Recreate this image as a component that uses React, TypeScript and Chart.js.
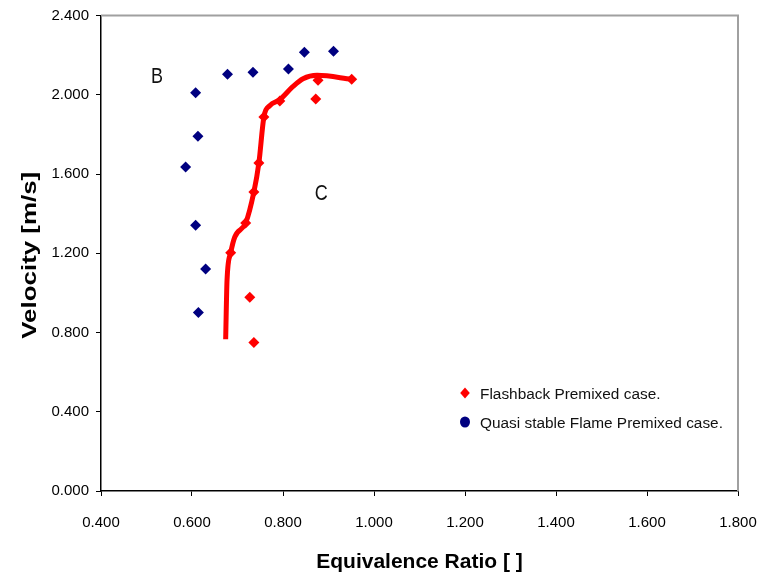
import React, { useEffect, useRef } from "react";
import { Chart, registerables } from "chart.js";

Chart.register(...registerables);

// ---- data ----
const flashbackX = [0.685, 0.718, 0.736, 0.747, 0.758, 0.793, 0.877, 0.872, 0.951, 0.727, 0.736];
const flashbackY = [1.202, 1.353, 1.509, 1.656, 1.888, 1.968, 2.073, 1.978, 2.078, 0.978, 0.75];

const quasiX = [0.608, 0.678, 0.734, 0.812, 0.847, 0.911, 0.613, 0.586, 0.608, 0.63, 0.614];
const quasiY = [2.01, 2.103, 2.113, 2.13, 2.214, 2.22, 1.79, 1.635, 1.341, 1.121, 0.901];

// hand-drawn trend curve through the flashback points
const trendX = [0.674, 0.677, 0.685, 0.694, 0.718, 0.736, 0.747, 0.758, 0.771, 0.793, 0.822, 0.844, 0.875, 0.951];
const trendY = [0.766, 1.064, 1.202, 1.282, 1.353, 1.509, 1.656, 1.888, 1.945, 1.975, 2.042, 2.081, 2.098, 2.078];

const annotationTexts = ["B", "C"];
const annotationX = [0.523, 0.884];
const annotationY = [2.09, 1.501];

const seriesLabels = ["Flashback Premixed case.", "Quasi stable Flame Premixed case."];
const xTitle = "Equivalence Ratio [ ]";
const yTitle = "Velocity [m/s]";

const FONT = '"Liberation Sans", Arial, sans-serif';
const RED = "#ff0000";
const NAVY = "#000080";

const zip = (xs: number[], ys: number[]) => xs.map((x, i) => ({ x, y: ys[i] }));

export default function App() {
  const ref = useRef<HTMLCanvasElement>(null);

  useEffect(() => {
    document.body.style.margin = "0";
    const canvas = ref.current;
    if (!canvas) return;

    const decor = {
      id: "decor",
      beforeDatasetsDraw(chart: any) {
        const { ctx, chartArea: a } = chart;
        ctx.save();
        ctx.strokeStyle = "#a0a0a0";
        ctx.lineWidth = 2;
        ctx.beginPath();
        ctx.moveTo(a.left, a.top);
        ctx.lineTo(a.right, a.top);
        ctx.lineTo(a.right, a.bottom);
        ctx.stroke();
        ctx.restore();
      },
      afterDraw(chart: any) {
        const { ctx, chartArea: a, scales } = chart;
        const xs = scales.x;
        const ys = scales.y;
        ctx.save();
        ctx.fillStyle = "#000";

        // x title
        ctx.font = `bold 21px ${FONT}`;
        ctx.textAlign = "center";
        ctx.textBaseline = "middle";
        ctx.fillText(xTitle, (a.left + a.right) / 2, 562);

        // y title (stretched along its length like the reference)
        ctx.save();
        ctx.translate(30, (a.top + a.bottom) / 2 + 2);
        ctx.rotate(-Math.PI / 2);
        const w = ctx.measureText(yTitle).width;
        ctx.scale(167 / w, 1);
        ctx.fillText(yTitle, 0, 0);
        ctx.restore();

        // annotations
        ctx.font = `18px ${FONT}`;
        ctx.fillStyle = "#111";
        annotationTexts.forEach((t, i) => {
          ctx.save();
          ctx.translate(xs.getPixelForValue(annotationX[i]), ys.getPixelForValue(annotationY[i]));
          ctx.scale(1, 1.25);
          ctx.fillText(t, 0, 0);
          ctx.restore();
        });

        // legend
        const lx = 465;
        const ly = [393, 422];
        ctx.textAlign = "left";
        ctx.font = `15.4px ${FONT}`;
        // diamond
        ctx.fillStyle = RED;
        ctx.beginPath();
        ctx.moveTo(lx, ly[0] - 5.5);
        ctx.lineTo(lx + 4.8, ly[0]);
        ctx.lineTo(lx, ly[0] + 5.5);
        ctx.lineTo(lx - 4.8, ly[0]);
        ctx.closePath();
        ctx.fill();
        // circle
        ctx.fillStyle = NAVY;
        ctx.beginPath();
        ctx.ellipse(lx, ly[1], 5, 5.5, 0, 0, Math.PI * 2);
        ctx.fill();
        ctx.fillStyle = "#111";
        ctx.fillText(seriesLabels[0], lx + 15, ly[0] + 2);
        ctx.fillText(seriesLabels[1], lx + 15, ly[1] + 1.5);

        ctx.restore();
      },
    };

    const chart = new Chart(canvas, {
      type: "scatter",
      data: {
        datasets: [
          {
            label: seriesLabels[0],
            data: zip(flashbackX, flashbackY),
            pointStyle: "rectRot",
            pointRadius: 5.5,
            backgroundColor: RED,
            borderColor: RED,
            borderWidth: 0,
            order: 1,
          },
          {
            label: seriesLabels[1],
            data: zip(quasiX, quasiY),
            pointStyle: "rectRot",
            pointRadius: 5.5,
            backgroundColor: NAVY,
            borderColor: NAVY,
            borderWidth: 0,
            order: 2,
          },
          {
            label: "trend",
            data: zip(trendX, trendY),
            showLine: true,
            pointRadius: 0,
            borderColor: RED,
            borderWidth: 5,
            cubicInterpolationMode: "monotone",
            fill: false,
            order: 3,
          } as any,
        ],
      },
      options: {
        responsive: false,
        animation: false,
        devicePixelRatio: 1,
        layout: { autoPadding: false, padding: { left: 0, top: 15.5, right: 33, bottom: 0 } },
        plugins: {
          legend: { display: false },
          tooltip: { enabled: false },
        },
        scales: {
          x: {
            type: "linear",
            min: 0.4,
            max: 1.8,
            afterFit: (axis: any) => {
              axis.height = 83;
              axis.paddingLeft = 0;
              axis.paddingRight = 0;
            },
            ticks: {
              stepSize: 0.2,
              padding: 18,
              color: "#000",
              font: { family: FONT, size: 15 },
              callback: (v: any) => Number(v).toFixed(3),
            },
            grid: { drawOnChartArea: false, drawTicks: true, tickLength: 5, tickColor: "#000" },
            border: { display: true, color: "#000", width: 1.5 },
          },
          y: {
            type: "linear",
            min: 0,
            max: 2.4,
            afterFit: (axis: any) => {
              axis.width = 101;
              axis.paddingTop = 0;
              axis.paddingBottom = 0;
            },
            ticks: {
              stepSize: 0.4,
              padding: 7,
              color: "#000",
              font: { family: FONT, size: 15 },
              callback: (v: any) => Number(v).toFixed(3),
            },
            grid: { drawOnChartArea: false, drawTicks: true, tickLength: 5, tickColor: "#000" },
            border: { display: true, color: "#000", width: 1.5 },
          },
        },
      },
      plugins: [decor],
    });

    return () => chart.destroy();
  }, []);

  return (
    <div style={{ width: 771, height: 574, background: "#fff" }}>
      <canvas ref={ref} width={771} height={574} style={{ display: "block" }} />
    </div>
  );
}
